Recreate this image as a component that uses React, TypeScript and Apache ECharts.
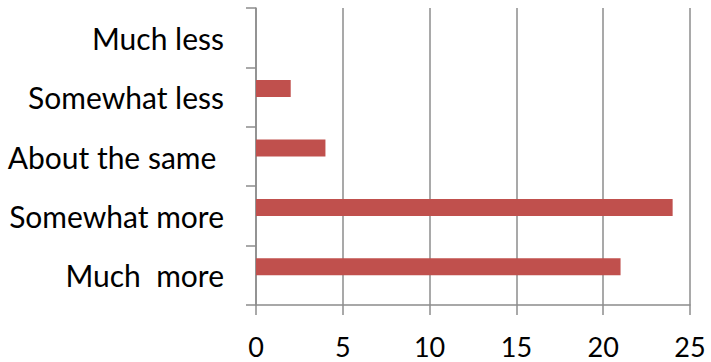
import React, { useEffect, useRef } from "react";
import * as echarts from "echarts";

// Categories listed bottom to top, as a category y-axis draws them
const categories = ["Much  more", "Somewhat more", "About the same ", "Somewhat less", "Much less"];
const responses = [21, 24, 4, 2, 0];
// Second (empty) series of the clustered layout, which shifts the bars up in each band
const emptySeries = [null, null, null, null, null];
const xTicks = { min: 0, max: 25, interval: 5 };

const FONT = "Lato";
const GRID_GREY = "#8c8c8c";

export default function App() {
  const ref = useRef<HTMLDivElement>(null);

  useEffect(() => {
    if (!ref.current) return;
    const chart = echarts.init(ref.current, undefined, { renderer: "svg" });
    chart.setOption({
      animation: false,
      grid: { left: 256, right: 21, top: 8, bottom: 57, containLabel: false },
      xAxis: {
        type: "value",
        min: xTicks.min,
        max: xTicks.max,
        interval: xTicks.interval,
        axisLine: { show: true, lineStyle: { color: GRID_GREY, width: 1.5 } },
        axisTick: { show: true, length: 10, lineStyle: { color: GRID_GREY, width: 1.5 } },
        splitLine: { show: true, lineStyle: { color: GRID_GREY, width: 1.5 } },
        axisLabel: {
          margin: 28,
          color: "#000",
          fontFamily: FONT,
          fontSize: 27,
        },
      },
      yAxis: {
        type: "category",
        data: categories,
        axisLine: { show: true, lineStyle: { color: GRID_GREY, width: 1.5 } },
        axisTick: { show: true, length: 10, lineStyle: { color: GRID_GREY, width: 1.5 } },
        axisLabel: {
          margin: 32,
          color: "#000",
          fontFamily: FONT,
          fontSize: 30,
          padding: [0, 0, 4, 0],
        },
      },
      series: [
        {
          type: "bar",
          data: responses,
          barWidth: 17,
          barGap: "0%",
          itemStyle: { color: "#c0504d" },
        },
        {
          type: "bar",
          data: emptySeries,
          barWidth: 17,
          barGap: "0%",
          itemStyle: { color: "#4f81bd" },
        },
      ],
    });
    return () => chart.dispose();
  }, []);

  return <div ref={ref} style={{ width: 711, height: 362, position: "absolute", left: 0, top: 0 }} />;
}
